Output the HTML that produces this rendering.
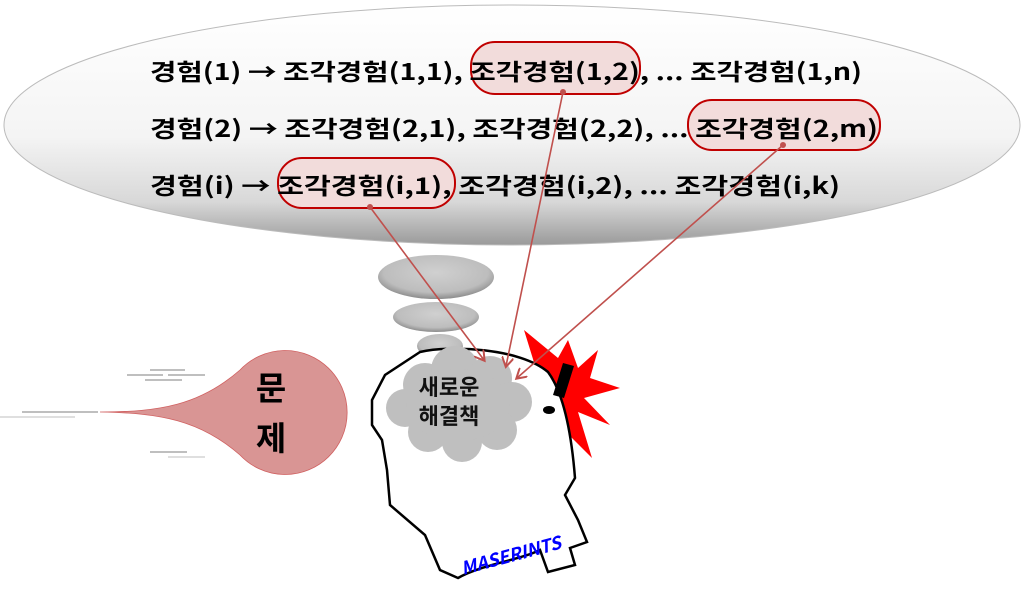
<!DOCTYPE html>
<html><head><meta charset="utf-8"><style>
html,body{margin:0;padding:0;background:#fff;width:1024px;height:590px;overflow:hidden}
text{font-family:"Noto Sans CJK KR","Liberation Sans",sans-serif}
</style></head><body>
<svg width="1024" height="590" viewBox="0 0 1024 590" xmlns="http://www.w3.org/2000/svg">
<defs>
<linearGradient id="g" x1="0" y1="0" x2="0" y2="1">
<stop offset="0" stop-color="#ffffff"/><stop offset="0.55" stop-color="#f4f4f4"/><stop offset="0.82" stop-color="#d8d8d8"/><stop offset="1" stop-color="#9a9a9a"/></linearGradient>
<radialGradient id="b" cx="0.5" cy="0.4" r="0.6">
<stop offset="0" stop-color="#d0d0d0"/><stop offset="0.75" stop-color="#bdbdbd"/><stop offset="1" stop-color="#8c8c8c"/></radialGradient>
<marker id="ar" markerWidth="12" markerHeight="12" refX="9" refY="6" orient="auto" markerUnits="userSpaceOnUse"><path d="M0,0 L10,6 L0,12" fill="none" stroke="#c0504d" stroke-width="2"/></marker>
</defs>
<ellipse cx="512" cy="125" rx="508" ry="120" fill="url(#g)" stroke="#bbb" stroke-width="1"/>
<rect x="471" y="42" width="169" height="52" rx="24" fill="#f2dcdb" stroke="#c00000" stroke-width="2"/>
<rect x="688" y="100" width="192" height="50" rx="24" fill="#f2dcdb" stroke="#c00000" stroke-width="2"/>
<rect x="278" y="158" width="177" height="50" rx="24" fill="#f2dcdb" stroke="#c00000" stroke-width="2"/>
<g font-size="23" font-weight="bold" fill="#000">
<text x="150" y="80" textLength="712" lengthAdjust="spacingAndGlyphs">경험(1) → 조각경험(1,1), 조각경험(1,2), ... 조각경험(1,n)</text>
<text x="150" y="137" textLength="728" lengthAdjust="spacingAndGlyphs">경험(2) → 조각경험(2,1), 조각경험(2,2), ... 조각경험(2,m)</text>
<text x="150" y="194" textLength="690" lengthAdjust="spacingAndGlyphs">경험(i)  → 조각경험(i,1), 조각경험(i,2), ... 조각경험(i,k)</text>
</g>
<ellipse cx="436" cy="277" rx="58" ry="22" fill="url(#b)"/>
<ellipse cx="436" cy="317" rx="43" ry="15" fill="url(#b)"/>
<ellipse cx="440" cy="346" rx="23" ry="12" fill="url(#b)"/>
<polygon points="524,330 558,358 568,340 578,368 598,350 590,378 620,388 584,398 610,425 578,412 592,458 566,432 572,474 558,440" fill="#ff0000"/>
<path d="M420,352 C450,345 520,348 548,372 C565,395 572,440 575,478 L565,495 L578,520 L587,542 L570,548 L575,565 L548,572 L540,550 C520,560 480,565 458,578 L440,570 L425,535 L390,505 L387,470 L382,440 L372,425 L372,400 L385,375 Z" fill="#fff" stroke="#000" stroke-width="2.5"/>
<path d="M391,402 L390,412" stroke="#000" stroke-width="2"/>
<polygon points="563,363 574,366 564,398 553,395" fill="#000"/>
<ellipse cx="549" cy="410" rx="6" ry="4" fill="#000"/>
<g fill="#bfbfbf">
<circle cx="425" cy="385" r="22"/><circle cx="455" cy="370" r="24"/><circle cx="490" cy="378" r="22"/>
<circle cx="512" cy="402" r="20"/><circle cx="497" cy="430" r="20"/><circle cx="462" cy="442" r="20"/>
<circle cx="428" cy="432" r="20"/><circle cx="405" cy="408" r="19"/><ellipse cx="458" cy="405" rx="52" ry="36"/>
</g>
<text x="449" y="395" font-size="22" font-weight="bold" text-anchor="middle" fill="#111">새로운</text>
<text x="449" y="424" font-size="22" font-weight="bold" text-anchor="middle" fill="#111">해결책</text>
<text x="0" y="0" transform="translate(463,575) rotate(-15)" font-size="18" font-weight="bold" font-style="italic" fill="#0000ff">MASERINTS</text>
<g stroke="#c0504d" stroke-width="1.6" fill="none">
<line x1="370" y1="207" x2="484" y2="360" marker-end="url(#ar)"/>
<line x1="563" y1="92" x2="506" y2="366" marker-end="url(#ar)"/>
<line x1="783" y1="145" x2="517" y2="378" marker-end="url(#ar)"/>
</g>
<g fill="#c0504d"><circle cx="370" cy="207" r="3"/><circle cx="563" cy="92" r="3"/><circle cx="783" cy="145" r="3"/></g>
<path d="M100,412 C160,412 200,405 240,370 A62,62 0 1 1 240,455 C200,420 160,413 100,412 Z" fill="#d99594" stroke="#d06060" stroke-width="0.8"/>
<text x="271" y="400" font-size="33" font-weight="bold" text-anchor="middle">문</text>
<text x="271" y="450" font-size="33" font-weight="bold" text-anchor="middle">제</text>
<g stroke="#999" stroke-width="1.2">
<line x1="150" y1="370" x2="185" y2="370"/><line x1="127" y1="375" x2="163" y2="375"/><line x1="168" y1="375" x2="205" y2="375"/>
<line x1="145" y1="380" x2="182" y2="380"/><line x1="22" y1="412" x2="98" y2="412"/><line x1="0" y1="417" x2="75" y2="417" stroke="#ccc"/>
<line x1="150" y1="452" x2="187" y2="452"/><line x1="168" y1="457" x2="205" y2="457" stroke="#ccc"/>
</g>
</svg>
</body></html>
